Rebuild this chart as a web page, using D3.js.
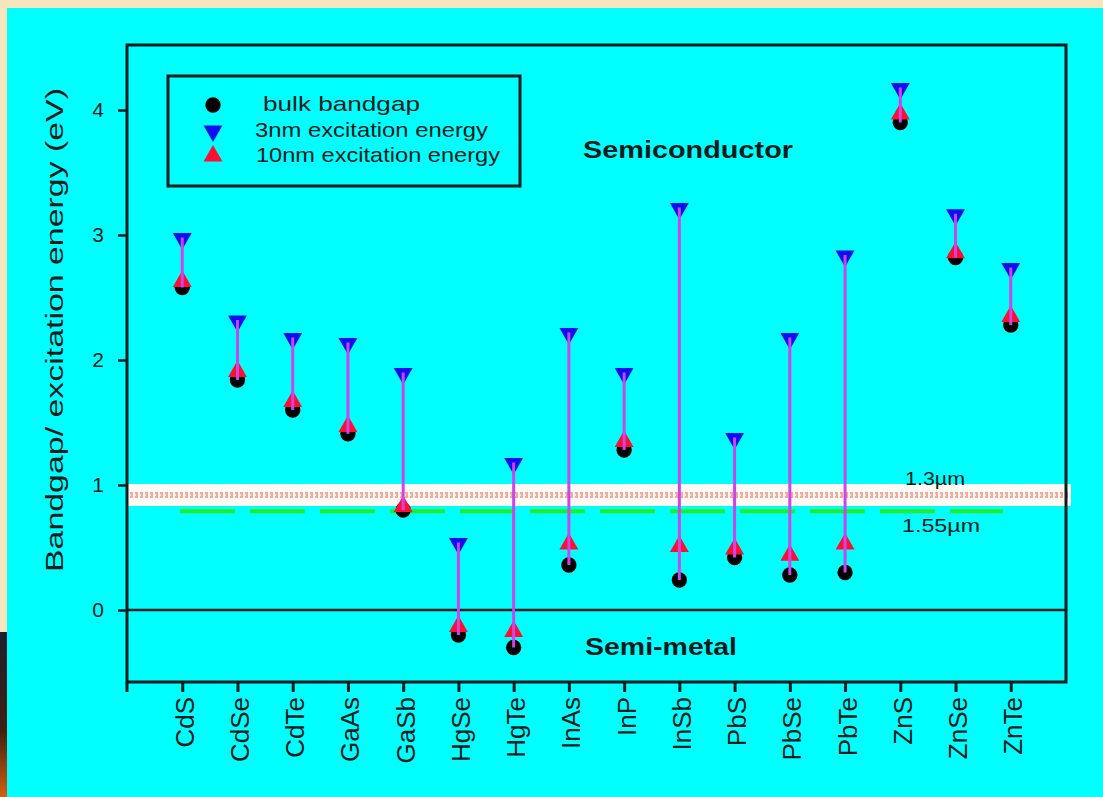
<!DOCTYPE html>
<html><head><meta charset="utf-8">
<script src="https://cdn.jsdelivr.net/npm/d3@7"></script>
<style>body{margin:0;background:#f7e6bd;}svg{display:block;font-family:"Liberation Sans",Arial,sans-serif;}</style>
</head><body>
<svg id="c" width="1103" height="797"></svg>
<script>
const categories = ["CdS","CdSe","CdTe","GaAs","GaSb","HgSe","HgTe","InAs","InP","InSb","PbS","PbSe","PbTe","ZnS","ZnSe","ZnTe"];
const bulk  = [2.58,1.84,1.60,1.41,0.80,-0.20,-0.30,0.36,1.28,0.24,0.42,0.28,0.30,3.90,2.82,2.28];
const exc3  = [2.98,2.32,2.18,2.14,1.90,0.54,1.18,2.22,1.90,3.22,1.38,2.18,2.84,4.18,3.17,2.74];
const exc10 = [2.62,1.90,1.66,1.46,0.82,-0.14,-0.18,0.52,1.34,0.50,0.48,0.43,0.52,3.96,2.85,2.34];
const yTicks = [0,1,2,3,4];
const refLines = [{label:"1.3\u00b5m", value:0.92}, {label:"1.55\u00b5m", value:0.79}];
const legendItems = ["bulk bandgap","3nm excitation energy","10nm excitation energy"];

const svg = d3.select("#c");
// background
svg.append("rect").attr("x",0).attr("y",0).attr("width",1103).attr("height",797).attr("fill","#f7e6bd");
const bl = svg.append("defs").append("linearGradient").attr("id","blg").attr("x1",0).attr("y1",0).attr("x2",0).attr("y2",1);
bl.append("stop").attr("offset","0").attr("stop-color","#1a2030");
bl.append("stop").attr("offset","0.6").attr("stop-color","#402010");
bl.append("stop").attr("offset","1").attr("stop-color","#d06010");
svg.append("rect").attr("x",0).attr("y",632).attr("width",10).attr("height",165).attr("fill","url(#blg)");
svg.append("rect").attr("x",7).attr("y",8).attr("width",1096).attr("height",789).attr("fill","#00ffff");

const L=127, R=1066, T=45, B=682;
const x = d3.scalePoint().domain(categories).range([L,R]).padding(1);
const y = d3.scaleLinear().domain([-0.576,4.52]).range([B,T]);
const ink = "#0c1c1c";

// reference band 1.3um
const v13 = refLines[0].value, v155 = refLines[1].value;
svg.append("rect").attr("x",L+1).attr("y",y(v13)-11).attr("width",R-L+4).attr("height",22).attr("fill","#fffaf6");
svg.append("line").attr("x1",L+3).attr("x2",R+2).attr("y1",y(v13)).attr("y2",y(v13))
  .attr("stroke","#f09080").attr("stroke-width",6).attr("stroke-dasharray","3,2").attr("opacity",0.75);
svg.append("line").attr("x1",L+3).attr("x2",R+2).attr("y1",y(v13)).attr("y2",y(v13))
  .attr("stroke","#fffaf6").attr("stroke-width",1.5).attr("stroke-dasharray","1,4");
// 1.55um green dashed
svg.append("line").attr("x1",180).attr("x2",1003).attr("y1",y(v155)).attr("y2",y(v155))
  .attr("stroke","#22ee22").attr("stroke-width",4).attr("stroke-dasharray","55,15");
svg.append("text").attr("x",905).attr("y",y(v13)-10).attr("font-size",19).attr("fill",ink)
  .attr("textLength",60).attr("lengthAdjust","spacingAndGlyphs").text(refLines[0].label);
svg.append("text").attr("x",902).attr("y",y(v155)+21).attr("font-size",19).attr("fill",ink)
  .attr("textLength",78).attr("lengthAdjust","spacingAndGlyphs").text(refLines[1].label);

// frame
svg.append("rect").attr("x",L).attr("y",T).attr("width",R-L).attr("height",B-T).attr("fill","none").attr("stroke",ink).attr("stroke-width",3);
svg.append("line").attr("x1",L).attr("x2",R).attr("y1",y(0)).attr("y2",y(0)).attr("stroke",ink).attr("stroke-width",2.5);
svg.append("line").attr("x1",L).attr("x2",L).attr("y1",B).attr("y2",B+10).attr("stroke",ink).attr("stroke-width",3);

// y axis
const ya = svg.append("g").attr("transform",`translate(${L},0)`)
  .call(d3.axisLeft(y).tickValues(yTicks).tickSize(9).tickPadding(14).tickFormat(d3.format("d")));
ya.select(".domain").remove();
ya.selectAll("line").attr("stroke",ink).attr("stroke-width",2.5);
ya.selectAll("text").attr("font-size",21).attr("fill",ink).attr("font-family","Liberation Sans, Arial");

// x axis
const xa = svg.append("g").attr("transform",`translate(0,${B})`)
  .call(d3.axisBottom(x).tickSize(10).tickPadding(0));
xa.select(".domain").remove();
xa.selectAll("line").attr("stroke",ink).attr("stroke-width",3);
xa.selectAll("text").attr("font-size",26).attr("fill",ink).attr("font-family","Liberation Sans, Arial")
  .attr("text-anchor","end").attr("dy",null).attr("y",0)
  .attr("transform","translate(11,15) rotate(-90)");

// axis title
svg.append("text").attr("transform",`translate(63,330) rotate(-90)`).attr("text-anchor","middle")
  .attr("font-size",23).attr("fill",ink).attr("textLength",484).attr("lengthAdjust","spacingAndGlyphs")
  .text("Bandgap/ excitation energy (eV)");

// region labels
svg.append("text").attr("x",583).attr("y",158).attr("font-size",24).attr("font-weight","bold").attr("fill",ink)
  .attr("textLength",210).attr("lengthAdjust","spacingAndGlyphs").text("Semiconductor");
svg.append("text").attr("x",585).attr("y",655).attr("font-size",24).attr("font-weight","bold").attr("fill",ink)
  .attr("textLength",152).attr("lengthAdjust","spacingAndGlyphs").text("Semi-metal");

// data
const rows = categories.map((c,i)=>({c, b:bulk[i], e3:exc3[i], e10:exc10[i]}));
const circ = d3.symbol().type(d3.symbolCircle).size(185);
const tri = d3.symbol().type(d3.symbolTriangle).size(155);
const g = svg.append("g");
g.selectAll(".bk").data(rows).join("path").attr("d",circ)
  .attr("transform",d=>`translate(${x(d.c)},${y(d.b)})`).attr("fill","#000");
g.selectAll(".r").data(rows).join("path").attr("d",tri)
  .attr("transform",d=>`translate(${x(d.c)},${y(d.e10)-1})`).attr("fill","#ff1030");
g.selectAll(".bl").data(rows).join("path").attr("d",tri)
  .attr("transform",d=>`translate(${x(d.c)},${y(d.e3)+1}) rotate(180)`).attr("fill","#1010ee");
g.selectAll(".st").data(rows).join("line")
  .attr("x1",d=>x(d.c)).attr("x2",d=>x(d.c)).attr("y1",d=>y(d.e3)).attr("y2",d=>y(d.b))
  .attr("stroke","#cc44ee").attr("stroke-width",3);

// legend
svg.append("rect").attr("x",168).attr("y",76).attr("width",352).attr("height",110).attr("fill","none").attr("stroke",ink).attr("stroke-width",3);
const ly = [105,131,156];
svg.append("path").attr("d",circ).attr("transform",`translate(213,${ly[0]})`).attr("fill","#000");
svg.append("path").attr("d",tri).attr("transform",`translate(213,${ly[1]}) rotate(180)`).attr("fill","#1010ee");
svg.append("path").attr("d",tri).attr("transform",`translate(213,${ly[2]})`).attr("fill","#ff1030");
const lx = [263,255,256], lw = [157,233,244];
legendItems.forEach((t,i)=>{
  svg.append("text").attr("x",lx[i]).attr("y",ly[i]+6).attr("font-size",21).attr("fill",ink)
    .attr("textLength",lw[i]).attr("lengthAdjust","spacingAndGlyphs").text(t);
});
</script>
</body></html>
